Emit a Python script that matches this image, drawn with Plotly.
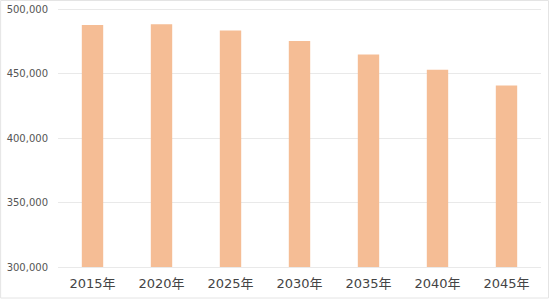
import plotly.graph_objects as go

years = ["2015年", "2020年", "2025年", "2030年", "2035年", "2040年", "2045年"]
values = [487600, 488300, 483500, 475200, 464900, 453000, 440800]
y_ticks = [300000, 350000, 400000, 450000, 500000]
y_tick_labels = ["300,000", "350,000", "400,000", "450,000", "500,000"]

fig = go.Figure(go.Bar(x=years, y=values, marker=dict(color="#F5BD95", line=dict(width=0))))

fig.update_layout(
    width=550, height=299,
    margin=dict(l=57.5, r=8.5, t=5, b=32),
    paper_bgcolor="white", plot_bgcolor="white",
    bargap=0.69,
    showlegend=False,
    font=dict(family="DejaVu Sans, Noto Sans CJK JP, sans-serif", color="#4a4a4a"),
)
fig.update_yaxes(
    range=[300000, 503200], tickvals=y_ticks, ticktext=y_tick_labels,
    showgrid=True, gridcolor="#e9e9e9", gridwidth=1, zeroline=False,
    tickfont=dict(size=10, color="#555555"), ticklabelstandoff=9,
    showline=False,
)
fig.update_xaxes(
    showline=True, linecolor="#e9e9e9", linewidth=1,
    tickfont=dict(size=13, color="#444444"),
    ticks="", ticklabelstandoff=4,
)
fig.add_shape(type="rect", xref="paper", yref="paper", x0=-57.5/484, x1=1 + 7.5/484,
              y0=-31/262, y1=1 + 4.5/262, line=dict(color="#e4e4e4", width=1), layer="below")

fig.write_html("out.html")
